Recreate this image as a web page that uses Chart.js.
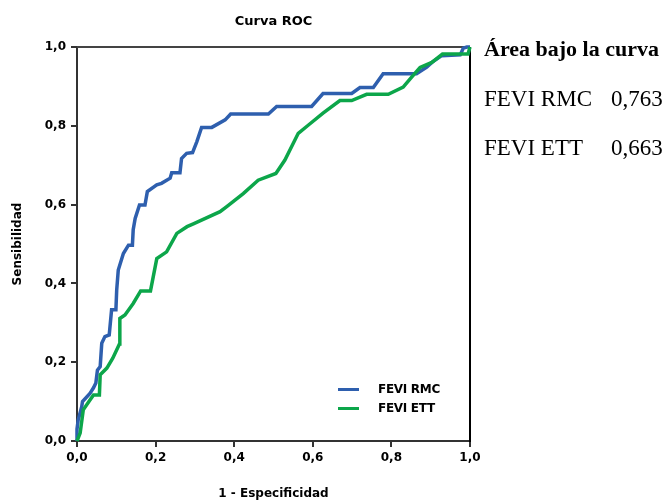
<!DOCTYPE html>
<html>
<head>
<meta charset="utf-8">
<script src="https://cdn.jsdelivr.net/npm/chart.js@4/dist/chart.umd.min.js"></script>
<style>
    body { margin: 0; background: #ffffff; }
    #wrap { position: relative; width: 666px; height: 501px; }
    #myChart { position: absolute; left: 0; top: 0; }
    .side { position: absolute; font-family: "Liberation Serif", "Times New Roman", serif; color: #000; white-space: nowrap; line-height: 1; }
    .side-head { font-weight: bold; font-size: 20px; transform: scaleX(1.1); transform-origin: left top; }
    .side-row { font-size: 23px; }
    .legend-item { position: absolute; font-family: "DejaVu Sans", sans-serif; font-weight: bold; font-size: 12px; line-height: 14px; white-space: nowrap; letter-spacing: -0.3px; }
    .legend-swatch { position: absolute; width: 21px; height: 3px; }
</style>
</head>
<body>
<div id="wrap">
    <canvas id="myChart" width="666" height="501"></canvas>
    <div id="side-panel"></div>
    <div id="legend-panel"></div>
</div>
<script>
const CHART_TITLE = 'Curva ROC';
const X_TITLE = '1 - Especificidad';
const Y_TITLE = 'Sensibilidad';
const TICK_LABELS = ['0,0', '0,2', '0,4', '0,6', '0,8', '1,0'];

const SERIES_NAMES = ['FEVI RMC', 'FEVI ETT'];
const AREA_VALUES = ['0,763', '0,663'];
const SERIES_COLORS = ['#2e5fae', '#0ca64a'];

// FEVI RMC
const rmcX = [0, 0, 0.003, 0.012, 0.014, 0.033, 0.042, 0.048, 0.052, 0.059, 0.063, 0.071, 0.082, 0.088, 0.099, 0.101, 0.105, 0.118, 0.131, 0.141, 0.143, 0.148, 0.159, 0.173, 0.176, 0.179, 0.203, 0.215, 0.237, 0.241, 0.262, 0.266, 0.279, 0.294, 0.305, 0.317, 0.343, 0.377, 0.391, 0.487, 0.508, 0.597, 0.626, 0.699, 0.720, 0.754, 0.779, 0.864, 0.890, 0.903, 0.928, 0.975, 0.983, 0.992, 1.0];
const rmcY = [0, 0.03, 0.053, 0.087, 0.10, 0.121, 0.135, 0.147, 0.18, 0.189, 0.248, 0.265, 0.269, 0.333, 0.333, 0.383, 0.434, 0.476, 0.497, 0.497, 0.536, 0.565, 0.599, 0.599, 0.616, 0.633, 0.650, 0.654, 0.667, 0.681, 0.681, 0.717, 0.730, 0.732, 0.760, 0.796, 0.796, 0.815, 0.830, 0.830, 0.849, 0.849, 0.882, 0.882, 0.897, 0.897, 0.932, 0.932, 0.949, 0.961, 0.978, 0.98, 0.997, 1.0, 1.0];

// FEVI ETT
const ettX = [0, 0.008, 0.016, 0.033, 0.042, 0.057, 0.059, 0.076, 0.091, 0.108, 0.109, 0.122, 0.143, 0.162, 0.187, 0.203, 0.228, 0.254, 0.280, 0.296, 0.364, 0.381, 0.423, 0.461, 0.506, 0.529, 0.563, 0.589, 0.626, 0.669, 0.699, 0.737, 0.792, 0.830, 0.852, 0.873, 0.903, 0.930, 0.995, 1.0];
const ettY = [0, 0.020, 0.079, 0.104, 0.117, 0.117, 0.168, 0.185, 0.210, 0.246, 0.311, 0.320, 0.349, 0.381, 0.381, 0.463, 0.480, 0.527, 0.544, 0.551, 0.582, 0.595, 0.628, 0.662, 0.679, 0.713, 0.781, 0.802, 0.832, 0.864, 0.864, 0.880, 0.880, 0.898, 0.924, 0.948, 0.961, 0.982, 0.982, 1.0];


function toPoints(xs, ys) {
    return xs.map((x, i) => ({ x: x, y: ys[i] }));
}


function tickLabel(value) {
    let index = Math.round(value / 0.2);
    return TICK_LABELS[index];
}


const frameLines = {  // top and right edge of the plot box
    id: 'frameLines',
    beforeDatasetsDraw(chart) {
        const { ctx, chartArea } = chart;
        ctx.save();
        ctx.lineWidth = 2;
        ctx.strokeStyle = '#444444';
        ctx.beginPath();
        ctx.moveTo(chartArea.left, chartArea.top);
        ctx.lineTo(chartArea.right, chartArea.top);
        ctx.stroke();
        ctx.strokeStyle = '#000000';
        ctx.beginPath();
        ctx.moveTo(chartArea.right, chartArea.top);
        ctx.lineTo(chartArea.right, chartArea.bottom + 1);
        ctx.stroke();
        ctx.restore();
    }
};


function axisOptions(title, titlePadding, fitSize, horizontal) {
    return {
        type: 'linear',
        min: 0,
        max: 1,
        afterFit: (scale) => {
            if (horizontal) scale.height = fitSize;
            else scale.width = fitSize;
        },
        ticks: {
            stepSize: 0.2,
            autoSkip: false,
            maxRotation: 0,
            padding: horizontal ? 4 : 5,
            color: '#000000',
            font: { family: 'DejaVu Sans', weight: 'bold', size: 12 },
            callback: (value) => tickLabel(value)
        },
        grid: {
            display: true,
            drawOnChartArea: false,
            drawTicks: true,
            tickLength: 6,
            lineWidth: 2,
            color: '#333333'
        },
        border: { display: true, color: '#333333', width: 2 },
        title: {
            display: true,
            text: title,
            color: '#000000',
            padding: titlePadding,
            font: { family: 'DejaVu Sans', weight: 'bold', size: 12 }
        }
    };
}


function drawChart() {
    const ctx = document.getElementById('myChart').getContext('2d');
    new Chart(ctx, {
        type: 'line',
        data: {
            datasets: [{
                label: SERIES_NAMES[0],
                data: toPoints(rmcX, rmcY),
                borderColor: SERIES_COLORS[0],
                borderWidth: 3.5,
                order: 1
            }, {
                label: SERIES_NAMES[1],
                data: toPoints(ettX, ettY),
                borderColor: SERIES_COLORS[1],
                borderWidth: 3.5,
                order: 0
            }]
        },
        options: {
            responsive: false,
            animation: false,
            clip: 4,
            layout: { padding: { left: 0, right: 196, top: 0, bottom: 0 } },
            elements: {
                point: { radius: 0 },
                line: { tension: 0, borderJoinStyle: 'miter', borderCapStyle: 'butt' }
            },
            scales: {
                x: axisOptions(X_TITLE, { top: 0, bottom: 0 }, 60, true),
                y: axisOptions(Y_TITLE, { top: 11, bottom: 0 }, 77, false)
            },
            plugins: {
                legend: { display: false },
                tooltip: { enabled: false },
                title: {
                    display: true,
                    fullSize: false,
                    text: CHART_TITLE,
                    color: '#000000',
                    font: { family: 'DejaVu Sans', weight: 'bold', size: 13, lineHeight: 1.2 },
                    padding: { top: 14, bottom: 17.4 }
                }
            }
        },
        plugins: [frameLines]
    });
}


function renderLegend() {
    let html = '';
    for (let i = 0; i < SERIES_NAMES.length; i++) {
        let centerY = 389 + i * 19;
        html += `<div class="legend-swatch" style="left:338px; top:${centerY - 1.5}px; background:${SERIES_COLORS[i]}"></div>`;
        html += `<div class="legend-item" style="left:378px; top:${centerY - 7}px">${SERIES_NAMES[i]}</div>`;
    }
    document.getElementById('legend-panel').innerHTML = html;
}


function renderSidePanel() {
    let html = `<div class="side side-head" style="left:484px; top:39px">Área bajo la curva</div>`;
    for (let i = 0; i < SERIES_NAMES.length; i++) {
        let top = 87 + i * 49;
        html += `<div class="side side-row" style="left:484px; top:${top}px">${SERIES_NAMES[i]}</div>`;
        html += `<div class="side side-row" style="left:611px; top:${top}px">${AREA_VALUES[i]}</div>`;
    }
    document.getElementById('side-panel').innerHTML = html;
}


drawChart();
renderLegend();
renderSidePanel();
</script>
</body>
</html>
